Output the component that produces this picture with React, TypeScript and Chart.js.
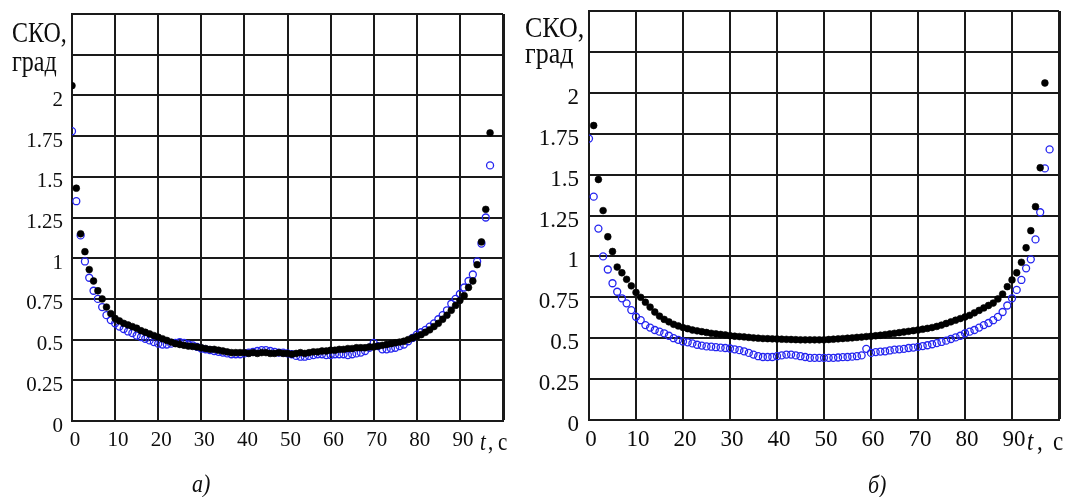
import React, { useEffect, useRef } from "react";
import { Chart, registerables } from "chart.js";

Chart.register(...registerables);

// ---------- data ----------
const xTickLabels = ["0", "10", "20", "30", "40", "50", "60", "70", "80", "90", ""];
const yTickLabels = ["0", "0.25", "0.5", "0.75", "1", "1.25", "1.5", "1.75", "2", "", ""];

// panel a) time samples (s)
const tLeft = [
  0, 1, 2, 3, 4, 5, 6, 7, 8, 9, 10, 11, 12, 13, 14, 15, 16, 17, 18, 19,
  20, 21, 22, 23, 24, 25, 26, 27, 28, 29, 30, 31, 32, 33, 34, 35, 36, 37, 38, 39,
  40, 41, 42, 43, 44, 45, 46, 47, 48, 49, 50, 51, 52, 53, 54, 55, 56, 57, 58, 59,
  60, 61, 62, 63, 64, 65, 66, 67, 68, 69, 70, 71, 72, 73, 74, 75, 76, 77, 78, 79,
  80, 81, 82, 83, 84, 85, 86, 87, 88, 89, 90, 91, 92, 93, 94, 95, 96, 97,
];
const leftBlack = [
  2.06, 1.43, 1.15, 1.04, 0.93, 0.86, 0.8, 0.75, 0.7, 0.66,
  0.63, 0.615, 0.6, 0.59, 0.58, 0.57, 0.555, 0.545, 0.535, 0.525,
  0.515, 0.505, 0.495, 0.485, 0.475, 0.47, 0.465, 0.46, 0.458, 0.455,
  0.45, 0.445, 0.44, 0.44, 0.435, 0.43, 0.425, 0.42, 0.42, 0.42,
  0.42, 0.415, 0.42, 0.415, 0.42, 0.42, 0.415, 0.415, 0.42, 0.415,
  0.415, 0.41, 0.415, 0.42, 0.415, 0.42, 0.425, 0.425, 0.43, 0.43,
  0.435, 0.435, 0.44, 0.44, 0.445, 0.445, 0.45, 0.45, 0.45, 0.455,
  0.455, 0.46, 0.465, 0.47, 0.475, 0.48, 0.485, 0.49, 0.5, 0.51,
  0.52, 0.53, 0.545, 0.56, 0.58, 0.6, 0.625, 0.65, 0.68, 0.71,
  0.74, 0.77, 0.82, 0.86, 0.96, 1.1, 1.3, 1.77,
];
const leftBlue = [
  1.78, 1.35, 1.14, 0.98, 0.88, 0.8, 0.75, 0.7, 0.65, 0.62,
  0.6, 0.58, 0.565, 0.55, 0.54, 0.525, 0.515, 0.505, 0.495, 0.485,
  0.475, 0.47, 0.47, 0.475, 0.48, 0.485, 0.48, 0.47, 0.465, 0.455,
  0.445, 0.44, 0.435, 0.43, 0.425, 0.42, 0.415, 0.41, 0.41, 0.41,
  0.415, 0.42, 0.425, 0.43, 0.435, 0.435, 0.43, 0.425, 0.42, 0.42,
  0.415, 0.41, 0.4, 0.395, 0.395, 0.4, 0.405, 0.41, 0.41, 0.405,
  0.405, 0.41, 0.41, 0.41, 0.405, 0.41, 0.415, 0.42, 0.43, 0.45,
  0.48, 0.46, 0.44, 0.44, 0.445, 0.45, 0.46, 0.47, 0.49, 0.51,
  0.53, 0.545, 0.56, 0.58, 0.6, 0.625, 0.65, 0.68, 0.72, 0.75,
  0.78, 0.82, 0.86, 0.9, 0.98, 1.09, 1.25, 1.57,
];

// panel б) time samples (s)
const tRightBlack = [
  1, 2, 3, 4, 5, 6, 7, 8, 9, 10, 11, 12, 13, 14, 15, 16, 17, 18, 19,
  20, 21, 22, 23, 24, 25, 26, 27, 28, 29, 30, 31, 32, 33, 34, 35, 36, 37, 38, 39,
  40, 41, 42, 43, 44, 45, 46, 47, 48, 49, 50, 51, 52, 53, 54, 55, 56, 57, 58, 59,
  60, 61, 62, 63, 64, 65, 66, 67, 68, 69, 70, 71, 72, 73, 74, 75, 76, 77, 78, 79,
  80, 81, 82, 83, 84, 85, 86, 87, 88, 89, 90, 91, 92, 93, 94, 95, 96, 97,
];
const rightBlack = [
  1.8, 1.47, 1.28, 1.12, 1.03, 0.935, 0.9, 0.86, 0.82,
  0.78, 0.75, 0.72, 0.69, 0.66, 0.635, 0.615, 0.6, 0.585, 0.575,
  0.565, 0.558, 0.55, 0.545, 0.54, 0.535, 0.53, 0.527, 0.523, 0.52,
  0.515, 0.512, 0.51, 0.508, 0.505, 0.502, 0.5, 0.498, 0.497, 0.496,
  0.495, 0.494, 0.493, 0.492, 0.491, 0.49, 0.49, 0.49, 0.49, 0.49,
  0.49, 0.492, 0.494, 0.496, 0.498, 0.5, 0.502, 0.505, 0.507, 0.51,
  0.512, 0.515, 0.518, 0.522, 0.526, 0.53, 0.534, 0.538, 0.542, 0.546,
  0.55, 0.555, 0.56, 0.565, 0.572, 0.58, 0.59, 0.6, 0.61, 0.62,
  0.63, 0.64, 0.655, 0.67, 0.685, 0.7, 0.715, 0.74, 0.77, 0.815,
  0.856, 0.9, 0.964, 1.053, 1.157, 1.304, 1.542, 2.06,
];
const tRightBlue = [
  0, 1, 2, 3, 4, 5, 6, 7, 8, 9, 10, 11, 12, 13, 14, 15, 16, 17, 18, 19,
  20, 21, 22, 23, 24, 25, 26, 27, 28, 29, 30, 31, 32, 33, 34, 35, 36, 37, 38, 39,
  40, 41, 42, 43, 44, 45, 46, 47, 48, 49, 50, 51, 52, 53, 54, 55, 56, 57, 58, 59,
  60, 61, 62, 63, 64, 65, 66, 67, 68, 69, 70, 71, 72, 73, 74, 75, 76, 77, 78, 79,
  80, 81, 82, 83, 84, 85, 86, 87, 88, 89, 90, 91, 92, 93, 94, 95, 96, 97, 98,
];
const rightBlue = [
  1.72, 1.365, 1.17, 1.0, 0.92, 0.836, 0.784, 0.744, 0.713, 0.672,
  0.631, 0.61, 0.58, 0.565, 0.55, 0.54, 0.53, 0.515, 0.5, 0.49,
  0.48, 0.475, 0.468, 0.46, 0.455, 0.45, 0.448, 0.445, 0.442, 0.44,
  0.437, 0.432, 0.427, 0.42, 0.41, 0.4, 0.39, 0.385, 0.385, 0.385,
  0.39, 0.395, 0.4, 0.4, 0.395, 0.39, 0.385, 0.38, 0.38, 0.38,
  0.38, 0.38, 0.38, 0.382, 0.384, 0.385, 0.387, 0.39, 0.395, 0.435,
  0.41, 0.415, 0.418, 0.42, 0.425, 0.43, 0.432, 0.435, 0.44, 0.443,
  0.447, 0.452, 0.457, 0.463, 0.47, 0.477, 0.485, 0.495, 0.505, 0.515,
  0.53, 0.54, 0.55, 0.565, 0.58, 0.593, 0.61, 0.63, 0.66, 0.7,
  0.744, 0.795, 0.856, 0.927, 0.982, 1.104, 1.27, 1.538, 1.654,
];

// ---------- styling ----------
const SERIF = "'Liberation Serif', 'Times New Roman', serif";
const INK = "#0d0d0d";
const GRID = "#1a1a1a";
const BLUE = "#2424f0";

type TextItem = { text: string; x: number; y: number; font: string; sy: number };

type Panel = {
  left: number;
  width: number;
  height: number;
  areaLeft: number;
  areaTop: number;
  areaRight: number;
  areaBottom: number;
  tickFont: number;
  xLabelOffset: number;
  xPad: number;
  yPad: number;
  tBlack: number[];
  black: number[];
  tBlue: number[];
  blue: number[];
  texts: TextItem[];
};

const panels: Panel[] = [
  {
    left: 0,
    width: 520,
    height: 497,
    areaLeft: 72,
    areaTop: 14,
    areaRight: 503,
    areaBottom: 421,
    tickFont: 21,
    xLabelOffset: 3,
    xPad: 7,
    yPad: 9,
    tBlack: tLeft,
    black: leftBlack,
    tBlue: tLeft,
    blue: leftBlue,
    texts: [
      { text: "СКО,", x: 12, y: 42, font: `24px ${SERIF}`, sy: 1.22 },
      { text: "град", x: 12, y: 71, font: `24px ${SERIF}`, sy: 1.22 },
      { text: "t", x: 480, y: 450, font: `italic 21px ${SERIF}`, sy: 1.2 },
      { text: ",", x: 488, y: 450, font: `21px ${SERIF}`, sy: 1.2 },
      { text: "с", x: 498, y: 450, font: `21px ${SERIF}`, sy: 1.2 },
      { text: "а)", x: 192, y: 492, font: `italic 22px ${SERIF}`, sy: 1.15 },
    ],
  },
  {
    left: 520,
    width: 550,
    height: 497,
    areaLeft: 69,
    areaTop: 11,
    areaRight: 539,
    areaBottom: 420,
    tickFont: 23,
    xLabelOffset: 2,
    xPad: 6,
    yPad: 10,
    tBlack: tRightBlack,
    black: rightBlack,
    tBlue: tRightBlue,
    blue: rightBlue,
    texts: [
      { text: "СКО,", x: 5, y: 37, font: `26px ${SERIF}`, sy: 1.15 },
      { text: "град", x: 5, y: 63, font: `26px ${SERIF}`, sy: 1.15 },
      { text: "t", x: 507, y: 450, font: `italic 23px ${SERIF}`, sy: 1.15 },
      { text: ",", x: 517, y: 450, font: `23px ${SERIF}`, sy: 1.15 },
      { text: "с", x: 533, y: 450, font: `23px ${SERIF}`, sy: 1.15 },
      { text: "б)", x: 348, y: 493, font: `italic 22px ${SERIF}`, sy: 1.15 },
    ],
  },
];

function makeChart(canvas: HTMLCanvasElement, p: Panel) {
  const textPlugin = {
    id: "panelTexts",
    afterDraw(chart: any) {
      const ctx = chart.ctx as CanvasRenderingContext2D;
      ctx.save();
      ctx.fillStyle = INK;
      ctx.textBaseline = "alphabetic";
      ctx.textAlign = "left";
      for (const t of p.texts) {
        ctx.save();
        ctx.translate(t.x, t.y);
        ctx.scale(1, t.sy);
        ctx.font = t.font;
        ctx.fillText(t.text, 0, 0);
        ctx.restore();
      }
      ctx.restore();
    },
  };

  const tickFont = { family: SERIF, size: p.tickFont };

  return new Chart(canvas, {
    type: "scatter",
    data: {
      datasets: [
        {
          label: "black",
          data: p.black.map((v, i) => ({ x: p.tBlack[i], y: v })),
          pointRadius: 3.4,
          pointBackgroundColor: "#000",
          pointBorderColor: "#000",
          pointBorderWidth: 0.6,
          showLine: false,
        },
        {
          label: "blue",
          data: p.blue.map((v, i) => ({ x: p.tBlue[i], y: v })),
          pointRadius: 3.5,
          pointBackgroundColor: "rgba(0,0,0,0)",
          pointBorderColor: BLUE,
          pointBorderWidth: 1.3,
          showLine: false,
        },
      ],
    },
    options: {
      responsive: false,
      animation: false,
      events: [],
      layout: {
        padding: {
          left: 0,
          top: p.areaTop,
          right: p.width - p.areaRight,
          bottom: 0,
        },
      },
      plugins: {
        legend: { display: false },
        tooltip: { enabled: false },
      },
      scales: {
        x: {
          type: "linear",
          min: 0,
          max: 100,
          ticks: {
            stepSize: 10,
            autoSkip: false,
            maxRotation: 0,
            padding: p.xPad,
            labelOffset: p.xLabelOffset,
            color: INK,
            font: tickFont,
            callback: (_v: any, i: number) => xTickLabels[i] ?? "",
          },
          grid: {
            color: GRID,
            lineWidth: (c: any) => (c.index === 10 ? 3 : 2),
            drawTicks: false,
          },
          border: { display: true, color: GRID, width: 2 },
          afterFit: (s: any) => {
            s.height = p.height - p.areaBottom;
            s.paddingLeft = 0;
            s.paddingRight = 0;
            s.paddingTop = 0;
            s.paddingBottom = 0;
          },
        },
        y: {
          type: "linear",
          min: 0,
          max: 2.5,
          ticks: {
            stepSize: 0.25,
            autoSkip: false,
            padding: p.yPad,
            labelOffset: 5,
            color: INK,
            font: tickFont,
            callback: (_v: any, i: number) => yTickLabels[i] ?? "",
          },
          grid: {
            color: GRID,
            lineWidth: 2,
            drawTicks: false,
          },
          border: { display: true, color: GRID, width: 2 },
          afterFit: (s: any) => {
            s.width = p.areaLeft;
            s.paddingLeft = 0;
            s.paddingRight = 0;
            s.paddingTop = 0;
            s.paddingBottom = 0;
          },
        },
      },
    } as any,
    plugins: [textPlugin],
  });
}

function PanelChart({ p }: { p: Panel }) {
  const ref = useRef<HTMLCanvasElement | null>(null);
  useEffect(() => {
    if (!ref.current) return;
    const chart = makeChart(ref.current, p);
    return () => chart.destroy();
  }, [p]);
  return (
    <canvas
      ref={ref}
      width={p.width}
      height={p.height}
      style={{
        position: "absolute",
        left: p.left,
        top: 0,
        width: p.width,
        height: p.height,
        display: "block",
      }}
    />
  );
}

export default function App() {
  return (
    <div
      style={{
        position: "fixed",
        left: 0,
        top: 0,
        width: 1070,
        height: 497,
        background: "#fff",
        overflow: "hidden",
      }}
    >
      {panels.map((p, i) => (
        <PanelChart key={i} p={p} />
      ))}
    </div>
  );
}
